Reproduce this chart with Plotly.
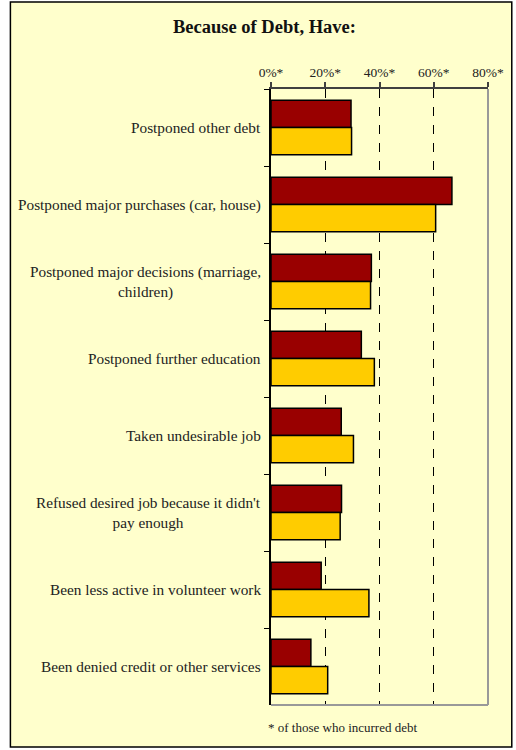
import plotly.graph_objects as go

categories = [
    "Postponed other debt",
    "Postponed major purchases (car, house)",
    "Postponed major decisions (marriage,<br>children)",
    "Postponed further education",
    "Taken undesirable job",
    "Refused desired job because it didn't<br>pay enough",
    "Been less active in volunteer work",
    "Been denied credit or other services",
]
series_red = [29.5, 66.7, 37.0, 33.3, 25.9, 26.0, 18.5, 14.7]
series_gold = [29.7, 60.7, 36.7, 38.1, 30.4, 25.5, 36.1, 20.9]
tick_vals = [0, 20, 40, 60, 80]
tick_text = ["0%*", "20%*", "40%*", "60%*", "80%*"]

W, H = 516, 750
L, R, T, B = 271, 490, 89, 705
pw, ph = R - L, B - T

def px(x):
    return (x - L) / pw

def py(y):
    return (B - y) / ph

font_family = "Liberation Serif, Times New Roman, serif"

fig = go.Figure()
fig.add_trace(go.Bar(
    y=categories, x=series_red, orientation="h", name="Series 1",
    marker=dict(color="#990000", line=dict(color="#000000", width=1.5)),
))
fig.add_trace(go.Bar(
    y=categories, x=series_gold, orientation="h", name="Series 2",
    marker=dict(color="#FFCC00", line=dict(color="#000000", width=1.5)),
))

shapes = [
    dict(type="rect", xref="paper", yref="paper",
         x0=px(8), x1=px(514), y0=py(747), y1=py(2),
         fillcolor="#FFFFCC", line=dict(color="#000000", width=1.5), layer="below"),
    dict(type="line", xref="paper", yref="paper", x0=1, x1=1, y0=0, y1=1,
         line=dict(color="#999999", width=2)),
    dict(type="line", xref="paper", yref="paper", x0=0, x1=1, y0=0, y1=0,
         line=dict(color="#999999", width=2)),
]

annotations = [
    dict(text="<b>Because of Debt, Have:</b>", xref="paper", yref="paper",
         x=px(264), y=py(27), xanchor="center", yanchor="middle", showarrow=False,
         font=dict(family=font_family, size=18.5, color="#111111")),
    dict(text="* of those who incurred debt", xref="paper", yref="paper",
         x=px(266), y=py(727), xanchor="left", yanchor="middle", showarrow=False,
         font=dict(family=font_family, size=13, color="#222222")),
]
for c in categories:
    annotations.append(dict(
        text=c, xref="paper", yref="y", x=0, y=c, xshift=-8,
        xanchor="right", yanchor="middle", align="center", showarrow=False,
        font=dict(family=font_family, size=15.3, color="#222222")))

fig.update_layout(
    width=W, height=H,
    margin=dict(l=L, r=W - R, t=T, b=H - B, pad=0),
    paper_bgcolor="#FFFFFF",
    plot_bgcolor="rgba(0,0,0,0)",
    barmode="group", bargap=0.29, bargroupgap=0,
    showlegend=False,
    shapes=shapes,
    annotations=annotations,
    xaxis=dict(
        side="top", range=[0, 80], tickvals=tick_vals, ticktext=tick_text,
        ticks="outside", ticklen=5, tickcolor="#404040", tickwidth=1.5,
        showline=True, linecolor="#404040", linewidth=2,
        showgrid=True, gridcolor="#000000", griddash="dash", gridwidth=1,
        zeroline=False,
        tickfont=dict(family=font_family, size=13.5, color="#222222"),
    ),
    yaxis=dict(
        autorange="reversed", showticklabels=False,
        tickson="boundaries", ticks="outside", ticklen=5, tickcolor="#000000",
        showline=True, linecolor="#000000", linewidth=1.5,
        showgrid=False, zeroline=False,
    ),
)

fig.write_html("out.html", config={"displayModeBar": False},
               post_script="document.body.style.margin='0';")
